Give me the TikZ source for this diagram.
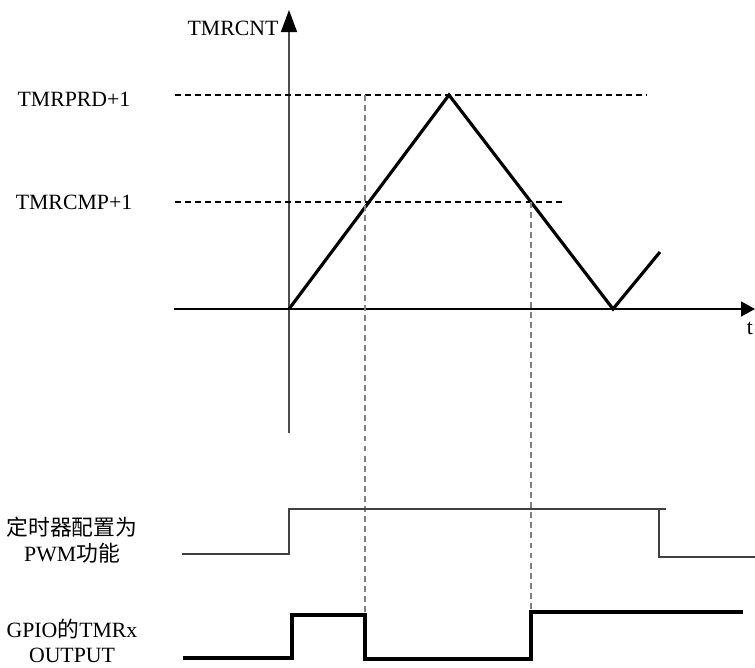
\documentclass[tikz,border=0pt]{standalone}
\usepackage{fontspec}
\setmainfont{Liberation Serif}
\newfontfamily\cjkfont{Noto Sans CJK SC}
\usetikzlibrary{arrows.meta}
\begin{document}
\begin{tikzpicture}[x=0.02cm,y=-0.02cm,
  lbl/.style={font=\fontsize{12.4}{14.6}\selectfont, inner sep=0pt, align=center},
  axisline/.style={line width=0.85pt},
  hdash/.style={line width=0.6pt, dash pattern=on 3.4pt off 2.3pt},
  vdash/.style={line width=0.8pt, gray, dash pattern=on 3.4pt off 2.3pt},
  ramp/.style={line width=1.8pt, line join=miter},
  pwmline/.style={line width=0.85pt, black!75},
  gpioline/.style={line width=2.1pt, line join=miter}]
\useasboundingbox (0,0) rectangle (755,667);
% axes
\coordinate (ybot) at (289,433);
\coordinate (ytop) at (289,10);
\coordinate (xleft) at (174,309);
\coordinate (xright) at (755,309);
\draw[axisline, black!70, -{Triangle[length=0.44cm,width=0.32cm,black]}] (ybot) -- (ytop);
\draw[axisline, -{Triangle[length=0.28cm,width=0.3cm]}] (xleft) -- (xright);
\node[lbl] (ylab) at (233,28) {TMRCNT};
\node[lbl] (tlab) at (750,328) {t};
% levels
\coordinate (prdL) at (175,95);
\coordinate (prdR) at (647,95);
\coordinate (cmpL) at (175,202);
\coordinate (cmpR) at (564,202);
\draw[hdash] (prdL) -- (prdR);
\draw[hdash] (cmpL) -- (cmpR);
\node[lbl] (prdlab) at (74,99) {TMRPRD+1};
\node[lbl] (cmplab) at (74,202) {TMRCMP+1};
% counter ramp
\coordinate (r0) at (289,309);
\coordinate (r1) at (449,95);
\coordinate (r2) at (613,309);
\coordinate (r3) at (660,252);
\draw[ramp] (r0) -- (r1) -- (r2) -- (r3);
% vertical dashed guides
\coordinate (v1t) at (365,95);
\coordinate (v1b) at (365,615);
\coordinate (v2t) at (531,202);
\coordinate (v2b) at (531,612);
\draw[vdash] (v1t) -- (v1b);
\draw[vdash] (v2t) -- (v2b);
% PWM enable signal
\coordinate (p0) at (182,554);
\coordinate (p1) at (289,554);
\coordinate (p2) at (289,509);
\coordinate (p3) at (666,509);
\coordinate (p4) at (659,509);
\coordinate (p5) at (659,557);
\coordinate (p6) at (755,557);
\draw[pwmline] (p0) -- (p1) -- (p2) -- (p3);
\draw[pwmline] (p4) -- (p5) -- (p6);
\node[lbl] (pwmlab) at (72,540) {{\cjkfont 定时器配置为}\\PWM{\cjkfont 功能}};
% GPIO output
\coordinate (g0) at (183,658);
\coordinate (g1) at (292,658);
\coordinate (g2) at (292,615);
\coordinate (g3) at (365,615);
\coordinate (g4) at (365,659);
\coordinate (g5) at (531,659);
\coordinate (g6) at (531,612);
\coordinate (g7) at (743,612);
\draw[gpioline] (g0) -- (g1) -- (g2) -- (g3) -- (g4) -- (g5) -- (g6) -- (g7);
\node[lbl] (gpiolab) at (72,641) {GPIO{\cjkfont 的}TMRx\\OUTPUT};
\end{tikzpicture}
\end{document}
